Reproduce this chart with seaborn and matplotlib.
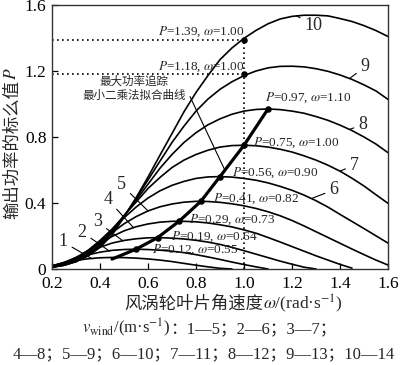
import matplotlib
matplotlib.use("Agg")
import matplotlib.pyplot as plt
import pandas as pd
import seaborn as sns

# ---------------- data ----------------
omega = [0.20, 0.25, 0.30, 0.35, 0.40, 0.45, 0.50, 0.55, 0.60, 0.65, 0.70, 0.75,
         0.80, 0.85, 0.90, 0.95, 1.00, 1.05, 1.10, 1.15, 1.20, 1.25, 1.30, 1.35,
         1.40, 1.45, 1.50, 1.55, 1.60]

p_curve1 = [0.020, 0.037, 0.052, 0.062, 0.068, 0.070, 0.069, 0.066, 0.061, 0.054,
            0.045, 0.034, 0.023, 0.013, 0.004, 0.0]
p_curve2 = [0.019, 0.040, 0.064, 0.086, 0.102, 0.113, 0.118, 0.120, 0.118, 0.114,
            0.108, 0.099, 0.087, 0.073, 0.058, 0.042, 0.027, 0.013, 0.0]
p_curve3 = [0.016, 0.039, 0.069, 0.101, 0.132, 0.157, 0.173, 0.183, 0.189, 0.190,
            0.187, 0.182, 0.174, 0.163, 0.149, 0.131, 0.111, 0.090, 0.069, 0.048,
            0.029, 0.011, 0.0]
p_curve4 = [0.015, 0.035, 0.070, 0.111, 0.155, 0.197, 0.231, 0.256, 0.273, 0.284,
            0.289, 0.289, 0.286, 0.279, 0.268, 0.255, 0.237, 0.217, 0.191, 0.164,
            0.136, 0.108, 0.080, 0.054, 0.028, 0.005]
p_curve5 = [0.013, 0.031, 0.065, 0.112, 0.166, 0.220, 0.274, 0.317, 0.352, 0.377,
            0.394, 0.405, 0.410, 0.409, 0.404, 0.395, 0.383, 0.367, 0.347, 0.323,
            0.294, 0.261, 0.226, 0.191, 0.156, 0.121, 0.087, 0.054, 0.024]
p_curve6 = [0.013, 0.030, 0.062, 0.112, 0.173, 0.241, 0.310, 0.375, 0.430, 0.474,
            0.507, 0.531, 0.549, 0.558, 0.560, 0.557, 0.549, 0.538, 0.522, 0.501,
            0.477, 0.448, 0.414, 0.375, 0.331, 0.288, 0.245, 0.201, 0.157]
p_curve7 = [0.011, 0.026, 0.053, 0.098, 0.165, 0.240, 0.323, 0.405, 0.488, 0.555,
            0.615, 0.660, 0.694, 0.720, 0.739, 0.748, 0.750, 0.747, 0.739, 0.726,
            0.709, 0.686, 0.660, 0.629, 0.593, 0.550, 0.503, 0.450, 0.398]
p_curve8 = [0.011, 0.025, 0.049, 0.089, 0.150, 0.231, 0.321, 0.417, 0.514, 0.611,
            0.694, 0.767, 0.826, 0.874, 0.910, 0.938, 0.957, 0.967, 0.970, 0.966,
            0.957, 0.944, 0.924, 0.901, 0.872, 0.839, 0.800, 0.757, 0.705]
p_curve9 = [0.011, 0.023, 0.044, 0.081, 0.139, 0.221, 0.320, 0.426, 0.540, 0.654,
            0.767, 0.866, 0.957, 1.030, 1.089, 1.135, 1.172, 1.200, 1.219, 1.228,
            1.229, 1.225, 1.214, 1.198, 1.176, 1.149, 1.116, 1.079, 1.028]
p_curve10 = [0.011, 0.022, 0.045, 0.079, 0.131, 0.206, 0.314, 0.431, 0.557, 0.690,
             0.821, 0.953, 1.070, 1.173, 1.269, 1.340, 1.398, 1.446, 1.486, 1.515,
             1.531, 1.538, 1.538, 1.534, 1.518, 1.500, 1.475, 1.445, 1.409]

curve_names = ["1", "2", "3", "4", "5", "6", "7", "8", "9", "10"]
curve_values = [p_curve1, p_curve2, p_curve3, p_curve4, p_curve5,
                p_curve6, p_curve7, p_curve8, p_curve9, p_curve10]

# maximum power points (labelled)
mppt_omega = [0.55, 0.64, 0.73, 0.82, 0.90, 1.00, 1.10]
mppt_P = [0.12, 0.19, 0.29, 0.41, 0.56, 0.75, 0.97]
# least-squares fit line of the MPPT points
fit_omega = [0.45, 0.55, 0.64, 0.73, 0.82, 0.90, 1.00, 1.10]
fit_P = [0.06, 0.12, 0.19, 0.29, 0.41, 0.56, 0.75, 0.97]
# reference points at omega = 1.00
ref_omega = [1.00, 1.00]
ref_P = [1.39, 1.18]

x_ticks = [0.2, 0.4, 0.6, 0.8, 1.0, 1.2, 1.4, 1.6]
x_ticklabels = ["0.2", "0.4", "0.6", "0.8", "1.0", "1.2", "1.4", "1.6"]
y_ticks = [0, 0.4, 0.8, 1.2, 1.6]
y_ticklabels = ["0", "0.4", "0.8", "1.2", "1.6"]

# curve label placement: (point on curve), (text position)
label_xy = [(0.367, 0.062), (0.44, 0.108), (0.496, 0.170), (0.54, 0.250), (0.60, 0.352),
            (1.283, 0.428), (1.40, 0.593), (1.44, 0.846), (1.44, 1.155), (1.22, 1.534)]
label_txt = [(0.246, 0.164), (0.325, 0.224), (0.39, 0.285), (0.433, 0.42), (0.49, 0.51),
             (1.375, 0.48), (1.46, 0.63), (1.495, 0.875), (1.505, 1.225), (1.29, 1.475)]

# ---------------- style ----------------
sns.set_theme(style="ticks")
plt.rcParams["font.family"] = ["Liberation Serif", "Noto Sans CJK SC", "DejaVu Sans"]
plt.rcParams["mathtext.fontset"] = "stix"
plt.rcParams["xtick.direction"] = "in"
plt.rcParams["ytick.direction"] = "in"
CJK = ["Noto Sans CJK SC", "DejaVu Sans"]

W, H = 400, 365
fig = plt.figure(figsize=(W / 100, H / 100), dpi=100)
ax = fig.add_axes([52 / W, 1 - 269 / H, (388 - 52) / W, (269 - 5) / H])

rows = []
for name, vals in zip(curve_names, curve_values):
    for w, p in zip(omega, vals):
        rows.append({"omega": w, "P": p, "curve": name})
df = pd.DataFrame(rows)

sns.lineplot(data=df, x="omega", y="P", hue="curve", palette=["black"] * 10,
             legend=False, sort=False, estimator=None, linewidth=1.2, ax=ax)

# MPPT fit line
sns.lineplot(x=fit_omega, y=fit_P, color="black", linewidth=2.3, sort=False,
             estimator=None, ax=ax)

# dotted reference lines
dot_style = dict(color="black", linestyle=(0, (1, 2)), linewidth=1.2)
ax.plot([0.2, ref_omega[0]], [ref_P[0], ref_P[0]], **dot_style)
ax.plot([0.2, ref_omega[1]], [ref_P[1], ref_P[1]], **dot_style)
ax.plot([ref_omega[0], ref_omega[0]], [0, ref_P[0]], **dot_style)

# points
sns.scatterplot(x=mppt_omega + ref_omega, y=mppt_P + ref_P, color="black", s=22,
                edgecolor="black", linewidth=0, zorder=5, ax=ax)

# point labels
ann_fs = 9.5
offsets = [(16, -1), (13, 1), (10, 1), (12, 3), (12, 4), (9, 3), (-3, 11)]
for w, p, off in zip(mppt_omega, mppt_P, offsets):
    ax.annotate(f"$P$={p:.2f}, $\\omega$={w:.2f}", xy=(w, p), xytext=off,
                textcoords="offset pixels", ha="left", va="center", fontsize=ann_fs)
for w, p in zip(ref_omega, ref_P):
    ax.annotate(f"$P$={p:.2f}, $\\omega$={w:.2f}", xy=(w, p), xytext=(1, 8),
                textcoords="offset pixels", ha="right", va="center", fontsize=ann_fs)

# fit-line annotation
ax.text(0.542, 1.094, "最大功率追踪\n最小二乘法拟合曲线", ha="center", va="center",
        fontsize=8.3, linespacing=1.15, family=CJK)
ax.annotate("", xy=(0.92, 0.60), xytext=(0.775, 1.045),
            arrowprops=dict(arrowstyle="-", color="black", lw=0.8,
                            shrinkA=0, shrinkB=0))

# curve number labels with leader lines
for name, xy, txt in zip(curve_names, label_xy, label_txt):
    ax.annotate(name, xy=xy, xytext=txt, ha="center", va="center", fontsize=13,
                arrowprops=dict(arrowstyle="-", color="black", lw=0.8,
                                shrinkA=1, shrinkB=0))

ax.set_xlim(0.2, 1.6)
ax.set_ylim(0, 1.6)
ax.set_xticks(x_ticks)
ax.set_xticklabels(x_ticklabels)
ax.set_yticks(y_ticks)
ax.set_yticklabels(y_ticklabels)
ax.tick_params(axis="both", labelsize=12.5, length=4, width=0.9, colors="black")
ax.tick_params(axis="x", pad=5)
ax.tick_params(axis="y", pad=4)
ax.set_xlabel("")
ax.set_ylabel("")
for sp in ax.spines.values():
    sp.set_visible(True)
    sp.set_color("#333333")
    sp.set_linewidth(1.0)

# axis titles (CJK part and math part as separate texts)
fs_lab = 12.5
fig.text(12 / W, 1 - 80 / H, "输出功率的标么值", rotation=90, ha="center",
         va="top", fontsize=fs_lab, family=CJK)
fig.text(12 / W, 1 - 80 / H, "$P$", rotation=90, ha="center", va="bottom",
         fontsize=fs_lab)

fig.text(263 / W, 1 - 309 / H, "风涡轮叶片角速度", ha="right", va="baseline",
         fontsize=fs_lab, family=CJK)
fig.text(263 / W, 1 - 309 / H, "$\\omega$/(rad·s$^{-1}$)", ha="left",
         va="baseline", fontsize=fs_lab)

# wind-speed legend
fs_leg = 12
fig.text(170 / W, 1 - 333 / H, "$v_{\\mathrm{wind}}$/(m·s$^{-1}$)", ha="right",
         va="baseline", fontsize=fs_leg)
fig.text(170 / W, 1 - 333 / H, "：1—5；2—6；3—7；", ha="left", va="baseline",
         fontsize=fs_leg)
fig.text(204 / W, 1 - 358 / H, "4—8；5—9；6—10；7—11；8—12；9—13；10—14",
         ha="center", va="baseline", fontsize=fs_leg)

fig.savefig("out.png", dpi=100, facecolor="white")
